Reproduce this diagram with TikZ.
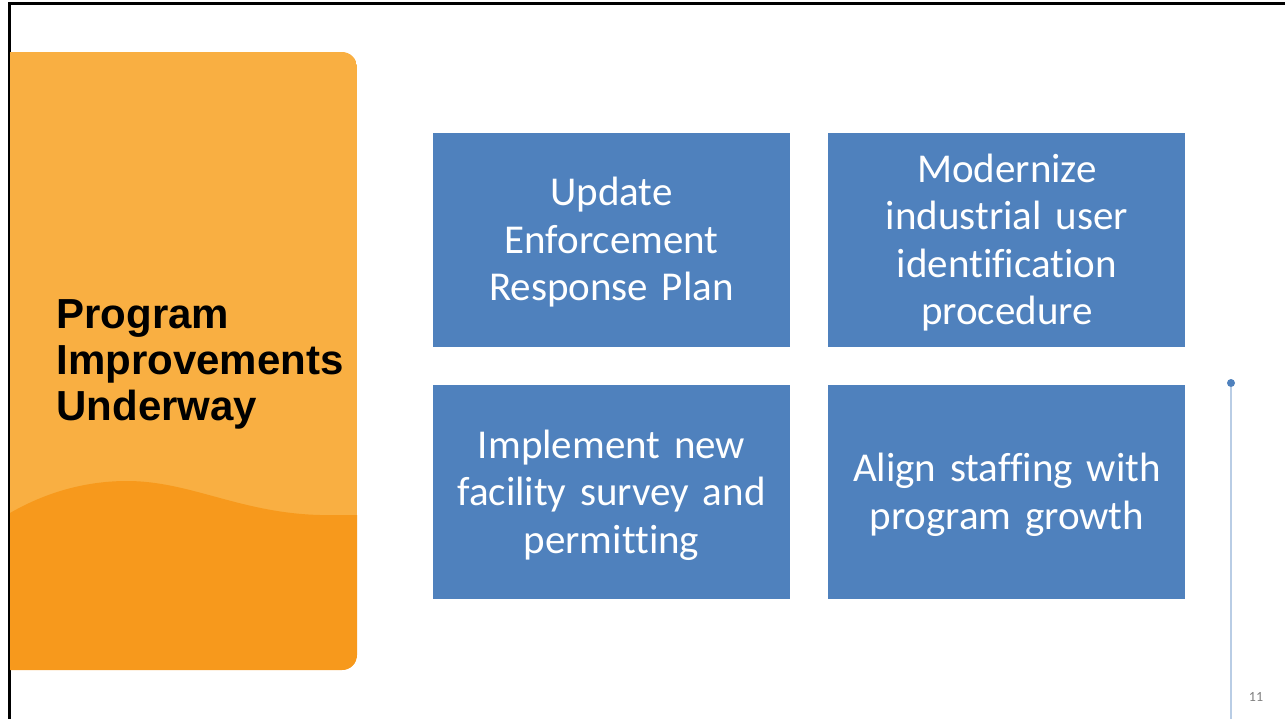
\documentclass[tikz,border=0pt]{standalone}
\usepackage{fontspec}
\setmainfont{Carlito}[Ligatures=NoCommon]
\newfontfamily\titlefont{Liberation Sans}
\usetikzlibrary{positioning}
\definecolor{boxblue}{HTML}{4F81BD}
\definecolor{lightorange}{HTML}{F9AF42}
\definecolor{darkorange}{HTML}{F7991C}
\definecolor{lineblue}{HTML}{B9CDE5}
\tikzstyle{task} = [rectangle, fill=boxblue, minimum width=357pt, minimum height=214pt, text width=340pt, align=center, text=white, inner sep=0pt, font=\fontsize{41}{47.5}\selectfont]
\tikzstyle{frame} = [line width=3pt, black]

\begin{document}
\begin{tikzpicture}[x=1pt, y=-1pt, node distance=38pt]
        \useasboundingbox (0,0) rectangle (1285,719);
        % slide frame
        \draw [frame] (9,719) -- (9,4) -- (1285,4);
        % orange panel with wave
        \begin{scope}
          \clip [rounded corners=15pt] (-30,52) rectangle (357,670);
          \fill [lightorange] (10,52) rectangle (357,670);
          \fill [darkorange] (10,513) .. controls (50,490) and (90,481) .. (127,481)
                .. controls (190,481) and (240,513) .. (320,515) -- (357,515) -- (357,670) -- (10,670) -- cycle;
        \end{scope}
        % title
        \node (title) [anchor=west, align=left, font=\titlefont\bfseries\fontsize{42}{46}\selectfont] at (53,364) {Program\\Improvements\\Underway};

        % row 1
        \node (b1) [task] at (611.5,240) {\strut Update\\Enforcement\\Response Plan};
        \node (b2) [task, right=38pt of b1] {\strut Modernize\\industrial user\\identification\\procedure};
        % row 2
        \node (b3) [task, below=38pt of b1] {\strut Implement new\\facility survey and\\permitting};
        \node (b4) [task, right=38pt of b3] {\strut Align staffing with\\program growth};

        % side line and page number
        \node (dot) [circle, fill=boxblue, inner sep=0pt, minimum size=8pt] at (1231,383) {};
        \coordinate (lineend) at (1231,719);
        \draw [lineblue, line width=1.5pt] (dot) -- (lineend);
        \node (page) [text=gray, font=\fontsize{14}{16}\selectfont] at (1256,697) {11};
\end{tikzpicture}
\end{document}
